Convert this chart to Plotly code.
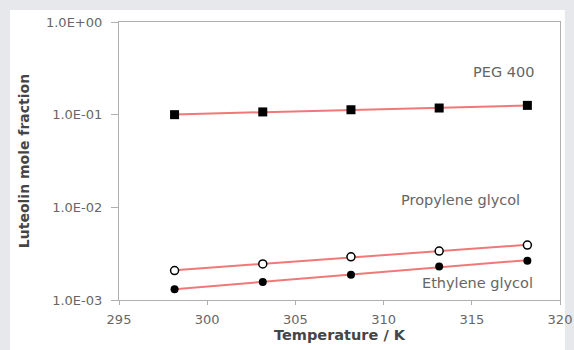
import numpy as np
import plotly.graph_objects as go

temps = [298.15, 303.15, 308.15, 313.15, 318.15]
peg400 = [0.100, 0.107, 0.113, 0.118, 0.126]
propylene = [0.00208, 0.00245, 0.00292, 0.00337, 0.00392]
ethylene = [0.00131, 0.00156, 0.00187, 0.00230, 0.00265]

y_tickvals = [1e-3, 1e-2, 1e-1, 1]
y_ticktext = ["1.0E-03", "1.0E-02", "1.0E-01", "1.0E+00"]
x_tickvals = [295, 300, 305, 310, 315, 320]

FONT = "'DejaVu Sans', 'Open Sans', sans-serif"
LINE_RED = "#f07878"
OUTER = "#e6e8eb"
TXT = "#666666"

def fit(vals):
    c = np.polyfit(temps, np.log10(vals), 1)
    return [10 ** np.polyval(c, t) for t in temps]

fig = go.Figure()
for vals in (peg400, propylene, ethylene):
    fig.add_trace(go.Scatter(x=temps, y=fit(vals), mode="lines",
                             line=dict(color=LINE_RED, width=2), showlegend=False,
                             hoverinfo="skip"))

fig.add_trace(go.Scatter(x=temps, y=peg400, mode="markers", name="PEG 400",
                         marker=dict(symbol="square", size=9, color="black"), showlegend=False))
fig.add_trace(go.Scatter(x=temps, y=propylene, mode="markers", name="Propylene glycol",
                         marker=dict(symbol="circle", size=8, color="white",
                                     line=dict(color="black", width=1.5)), showlegend=False))
fig.add_trace(go.Scatter(x=temps, y=ethylene, mode="markers", name="Ethylene glycol",
                         marker=dict(symbol="circle", size=8, color="black"), showlegend=False))

ann_font = dict(family=FONT, size=14.5, color=TXT)
for text, ax, ay in (("PEG 400", 0.946, 0.82),
                     ("Propylene glycol", 0.914, 0.36),
                     ("Ethylene glycol", 0.943, 0.061)):
    fig.add_annotation(xref="paper", yref="paper", x=ax, y=ay, text=text, showarrow=False,
                       font=ann_font, xanchor="right", yanchor="middle")

fig.add_shape(type="rect", xref="paper", yref="paper", x0=-0.247, x1=1.011, y0=-0.2, y1=1.043,
              fillcolor="white", line=dict(width=0), layer="below")

fig.update_layout(
    width=574, height=350,
    margin=dict(l=119, r=14, t=22, b=50, autoexpand=False),
    paper_bgcolor=OUTER, plot_bgcolor="white",
    font=dict(family=FONT, color=TXT),
    xaxis=dict(range=[295, 320], tickvals=x_tickvals, showgrid=False, zeroline=False,
               showline=True, mirror=True, linecolor="#b0b0b0", linewidth=1.2,
               ticks="outside", ticklen=4, tickcolor="#b0b0b0", automargin=False,
               ticklabelstandoff=3,
               tickfont=dict(size=13, color=TXT),
               title=dict(text="<b>Temperature / K</b>", font=dict(size=14.5, color="#454545"), standoff=2)),
    yaxis=dict(type="log", range=[-3, 0], tickvals=y_tickvals, ticktext=y_ticktext,
               showgrid=False, zeroline=False, showline=True, mirror=True, automargin=False,
               linecolor="#b0b0b0", linewidth=1.2, ticks="outside", ticklen=7, tickcolor="#b0b0b0",
               ticklabelstandoff=6,
               tickfont=dict(size=13, color=TXT),
               title=dict(text="<b>Luteolin mole fraction</b>", font=dict(size=14, color="#454545"), standoff=13)),
)

fig.write_html("out.html", config={"displayModeBar": False},
               post_script="document.body.style.margin='0';document.body.style.background='%s';" % OUTER)
